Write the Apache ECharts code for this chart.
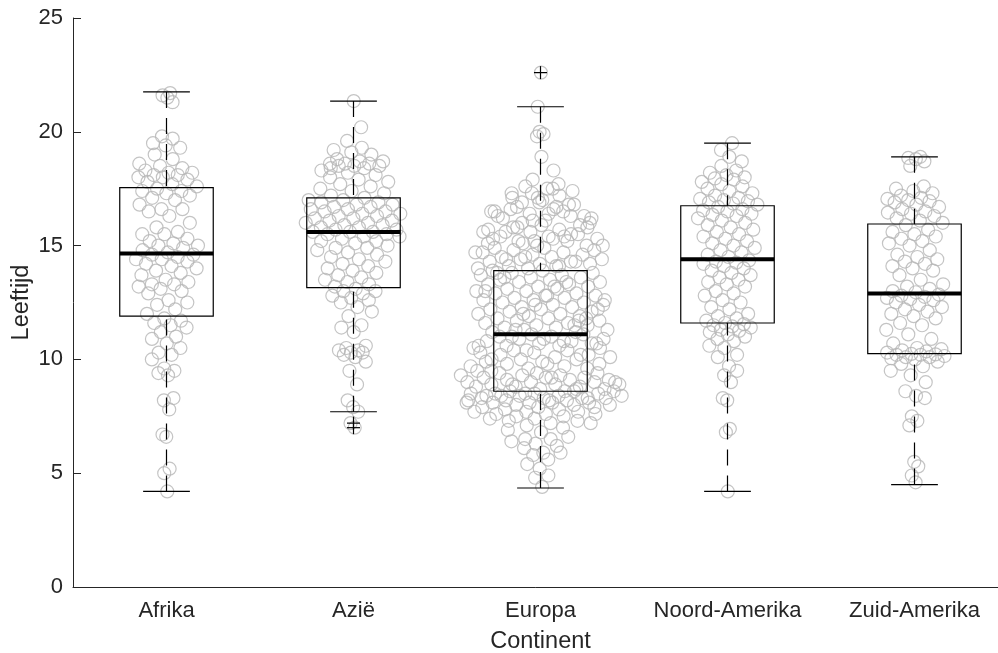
<!DOCTYPE html>
<html>
<head>
<meta charset="utf-8">
<script src="https://cdn.jsdelivr.net/npm/echarts@6/dist/echarts.min.js"></script>
<style>
  html, body { margin: 0; padding: 0; background: #fff; }
  #chart { width: 998px; height: 653px; }
</style>
</head>
<body>
<div id="chart"></div>
<script>
// Leeftijd per continent: boxplot met de losse waarnemingen als open cirkels

const categories = ['Afrika', 'Azië', 'Europa', 'Noord-Amerika', 'Zuid-Amerika'];

const afrika = [
  4.2, 5.0, 5.2, 6.6, 6.7, 7.8, 8.2, 8.3, 9.3, 9.4, 9.5, 9.6, 10.0, 10.2, 10.3, 10.5, 10.7, 10.9, 11.0, 11.2, 11.4, 11.5, 11.6, 11.7, 11.8,
  12.0, 12.2, 12.4, 12.5, 12.6, 12.9, 13.0, 13.1, 13.2, 13.3, 13.3, 13.4, 13.5, 13.7, 13.8, 13.9, 14.0, 14.1, 14.2, 14.3, 14.4, 14.4, 14.5, 14.6, 14.6,
  14.7, 14.8, 14.9, 15.0, 15.0, 15.1, 15.2, 15.3, 15.5, 15.5, 15.6, 15.8, 16.0, 16.3, 16.5, 16.6, 16.6, 16.8, 17.0, 17.1, 17.2, 17.3, 17.4, 17.4, 17.5,
  17.6, 17.7, 17.8, 17.9, 18.0, 18.0, 18.1, 18.1, 18.2, 18.2, 18.3, 18.4, 18.5, 18.6, 18.8, 19.0, 19.3, 19.4, 19.5, 19.7, 19.8, 21.3, 21.5, 21.6, 21.7
];

const azie = [
  7.0, 7.2, 7.7, 7.9, 8.2, 8.9, 9.5, 9.9, 10.1, 10.2, 10.3, 10.3, 10.4, 10.4, 10.5, 10.6, 11.2, 11.4, 11.5, 11.9, 12.1, 12.3, 12.5, 12.6, 12.7, 12.8, 12.9, 13.0, 13.0, 13.1,
  13.2, 13.3, 13.4, 13.5, 13.6, 13.7, 13.8, 13.9, 14.0, 14.1, 14.2, 14.3, 14.4, 14.5, 14.6, 14.7, 14.8, 14.9, 14.9, 15.0, 15.1, 15.2, 15.2, 15.3, 15.4, 15.4, 15.5, 15.5, 15.6, 15.6,
  15.6, 15.7, 15.7, 15.8, 15.8, 15.9, 15.9, 16.0, 16.0, 16.1, 16.1, 16.2, 16.2, 16.3, 16.3, 16.4, 16.4, 16.5, 16.5, 16.6, 16.6, 16.7, 16.7, 16.8, 16.8, 16.9, 16.9, 17.0, 17.0, 17.1,
  17.2, 17.3, 17.4, 17.5, 17.6, 17.7, 17.8, 17.9, 18.0, 18.1, 18.2, 18.3, 18.4, 18.5, 18.5, 18.5, 18.6, 18.6, 18.6, 18.7, 18.7, 18.8, 19.0, 19.1, 19.2, 19.3, 19.6, 20.2, 21.35, 18.4
];

const europa = [
  4.4, 4.8, 4.9, 5.2, 5.4, 5.6, 5.8, 5.9, 5.9, 6.1, 6.2, 6.3, 6.4, 6.5, 6.5, 6.6, 6.8, 6.9, 7.0,
  7.1, 7.2, 7.2, 7.3, 7.3, 7.4, 7.4, 7.5, 7.5, 7.6, 7.6, 7.6, 7.7, 7.7, 7.7, 7.8, 7.8, 7.9, 7.9, 7.9, 8.0, 8.0,
  8.0, 8.1, 8.1, 8.1, 8.1, 8.2, 8.2, 8.2, 8.3, 8.3, 8.3, 8.3, 8.4, 8.4, 8.4, 8.5, 8.5, 8.5, 8.5, 8.6, 8.6, 8.6, 8.2, 8.4, 8.3, 8.5, 8.1, 8.6, 8.4,
  8.7, 8.7, 8.8, 8.8, 8.8, 8.9, 8.9, 8.9, 9.0, 9.0, 9.0, 9.1, 9.1, 9.1, 9.2, 9.2, 9.2, 9.3, 9.3, 9.3, 9.4, 9.4, 9.4, 9.5, 8.7, 8.9, 9.0, 9.2,
  9.5, 9.6, 9.6, 9.7, 9.7, 9.8, 9.8, 9.9, 9.9, 10.0, 10.0, 10.1, 10.1, 10.2, 10.2, 10.3, 10.3, 10.4, 10.4, 10.5, 9.8, 10.0, 10.2, 10.4,
  10.5, 10.6, 10.6, 10.7, 10.7, 10.8, 10.8, 10.9, 10.9, 11.0, 11.0, 11.1, 11.1, 10.6, 10.8, 11.0, 10.7, 10.9,
  11.2, 11.2, 11.3, 11.3, 11.4, 11.4, 11.5, 11.5, 11.6, 11.6, 11.7, 11.7, 11.8, 11.8, 11.9, 11.9, 12.0, 12.0, 12.1, 12.1, 12.2, 12.2, 12.3, 12.3, 12.4,
  12.4, 12.5, 12.5, 12.6, 12.6, 12.7, 12.7, 12.8, 12.8, 12.9, 12.9, 13.0, 13.0, 13.1, 13.1, 13.2, 13.2, 13.3, 13.3, 13.4, 13.4, 13.5, 13.5, 13.6, 13.6,
  13.7, 13.7, 13.8, 13.8, 13.9, 13.9, 11.5, 12.0, 12.6, 13.2, 13.6, 11.8, 12.4, 13.0, 13.4, 11.3, 12.2, 12.8, 13.8, 11.7,
  14.0, 14.0, 14.1, 14.1, 14.2, 14.2, 14.3, 14.3, 14.4, 14.4, 14.5, 14.5, 14.6, 14.6, 14.7, 14.7, 14.8, 14.8, 14.9, 14.9, 14.3, 14.5, 14.7, 14.1, 14.4,
  15.0, 15.0, 15.1, 15.2, 15.2, 15.3, 15.4, 15.4, 15.5, 15.6, 15.6, 15.7, 15.8, 15.8, 15.9, 15.3, 15.5, 15.1, 15.0, 15.3, 15.6, 15.9, 15.2, 15.7, 15.4, 15.8,
  16.0, 16.1, 16.2, 16.3, 16.4, 16.5, 16.6, 16.7, 16.8, 16.9, 16.3, 16.5, 16.0, 16.2, 16.4, 16.6, 16.8, 16.1, 16.5, 16.7, 16.9, 16.3,
  17.0, 17.1, 17.2, 17.3, 17.4, 17.5, 17.6, 17.7, 17.1, 17.3, 17.5, 17.9, 18.3, 18.9, 19.8, 19.9, 20.0, 21.1, 22.6
];

const noordAmerika = [
  4.2, 6.8, 6.95, 8.2, 8.3, 9.0, 9.3, 9.5, 9.7, 10.1, 10.2, 10.5, 10.6, 10.8, 10.9, 11.0, 11.1, 11.2, 11.25, 11.3, 11.4, 11.45, 11.5, 11.55, 11.6,
  11.7, 11.8, 11.9, 12.0, 12.2, 12.3, 12.5, 12.6, 12.8, 12.9, 13.0, 13.2, 13.3, 13.4, 13.5, 13.6, 13.7, 13.8, 13.9, 14.0, 14.1, 14.2, 14.25, 14.3, 14.35,
  14.5, 14.6, 14.7, 14.8, 14.9, 15.0, 15.1, 15.2, 15.3, 15.4, 15.5, 15.6, 15.7, 15.8, 15.9, 16.0, 16.1, 16.2, 16.3, 16.35, 16.4, 16.5, 16.55, 16.6, 16.7,
  16.8, 16.85, 16.9, 16.95, 17.0, 17.05, 17.1, 17.2, 17.3, 17.4, 17.5, 17.6, 17.7, 17.8, 17.9, 17.95, 18.0, 18.1, 18.2, 18.3, 18.5, 18.7, 18.9, 19.2, 19.5
];

const zuidAmerika = [
  4.6, 4.9, 5.3, 5.5, 7.1, 7.3, 7.5, 8.3, 8.4, 8.6, 9.0, 9.3, 9.5, 9.7, 9.8, 9.9, 10.0, 10.05, 10.1, 10.1, 10.15, 10.2, 10.2, 10.22, 10.24,
  10.3, 10.35, 10.4, 10.45, 10.5, 10.7, 10.9, 11.1, 11.3, 11.5, 11.6, 11.8, 11.9, 12.0, 12.1, 12.2, 12.3, 12.4, 12.5, 12.6, 12.65, 12.7, 12.75, 12.8, 12.85,
  12.95, 13.0, 13.1, 13.2, 13.3, 13.5, 13.7, 13.9, 14.0, 14.1, 14.2, 14.3, 14.4, 14.5, 14.6, 14.8, 15.0, 15.1, 15.2, 15.3, 15.4, 15.5, 15.6, 15.7, 15.9,
  16.0, 16.1, 16.2, 16.3, 16.4, 16.45, 16.5, 16.6, 16.7, 16.8, 16.9, 16.95, 17.0, 17.05, 17.1, 17.2, 17.3, 17.4, 17.5, 17.6, 18.5, 18.7, 18.8, 18.85, 18.9
];

const boxLow    = [4.2, 7.7, 4.35, 4.2, 4.5];
const boxQ1     = [11.9, 13.15, 8.6, 11.6, 10.25];
const boxMedian = [14.65, 15.6, 11.1, 14.4, 12.9];
const boxQ3     = [17.55, 17.1, 13.9, 16.75, 15.95];
const boxHigh   = [21.75, 21.35, 21.1, 19.5, 18.9];
const outliers  = [[1, 7.2], [1, 7.0], [2, 22.6]];

const groups = [afrika, azie, europa, noordAmerika, zuidAmerika];
// maximale halve spreiding van de wolk per groep (in categorie-eenheden)
const spread = [0.18, 0.27, 0.45, 0.17, 0.17];

const textColor = '#262626';
const fontFamily = '"Liberation Sans", Arial, Helvetica, sans-serif';

// x-positie per punt: dichtheid (kernschatter) bepaalt de breedte, gulden-snede reeks de plek
function swarmPoints(values, gi) {
  const h = 0.9;
  const dens = values.map(v => values.reduce((s, w) => s + Math.exp(-0.5 * ((v - w) / h) ** 2), 0));
  const dmax = Math.max(...dens);
  return values.map((v, i) => {
    const u = 2 * (((i + 1) * 0.6180339887) % 1) - 1;
    return [gi + 1 + spread[gi] * (dens[i] / dmax) * u, v];
  });
}

const pointData = [];
groups.forEach((g, gi) => swarmPoints(g, gi).forEach(p => pointData.push(p)));

const boxData = categories.map((c, i) => [i + 1, boxLow[i], boxQ1[i], boxMedian[i], boxQ3[i], boxHigh[i]]);

function renderBox(params, api) {
  const x = api.value(0);
  const lo = api.coord([x, api.value(1)]);
  const q1 = api.coord([x, api.value(2)]);
  const md = api.coord([x, api.value(3)]);
  const q3 = api.coord([x, api.value(4)]);
  const hi = api.coord([x, api.value(5)]);
  const half = api.size([0.25, 0])[0];
  const cap = api.size([0.125, 0])[0];
  const line = { stroke: '#000', lineWidth: 1.2, fill: null };
  const dashed = { stroke: '#000', lineWidth: 1.2, lineDash: [16, 10], fill: null };
  return {
    type: 'group',
    children: [
      { type: 'line', shape: { x1: hi[0], y1: hi[1], x2: q3[0], y2: q3[1] }, style: dashed },
      { type: 'line', shape: { x1: lo[0], y1: lo[1], x2: q1[0], y2: q1[1] }, style: dashed },
      { type: 'line', shape: { x1: hi[0] - cap, y1: hi[1], x2: hi[0] + cap, y2: hi[1] }, style: line },
      { type: 'line', shape: { x1: lo[0] - cap, y1: lo[1], x2: lo[0] + cap, y2: lo[1] }, style: line },
      { type: 'rect', shape: { x: q3[0] - half, y: q3[1], width: half * 2, height: q1[1] - q3[1] }, style: line },
      { type: 'line', shape: { x1: md[0] - half, y1: md[1], x2: md[0] + half, y2: md[1] }, style: { stroke: '#000', lineWidth: 4 } }
    ]
  };
}

function renderPlus(params, api) {
  const p = api.coord([api.value(0) + 1, api.value(1)]);
  const r = 6.5;
  const st = { stroke: '#000', lineWidth: 1.2 };
  return {
    type: 'group',
    children: [
      { type: 'line', shape: { x1: p[0] - r, y1: p[1], x2: p[0] + r, y2: p[1] }, style: st },
      { type: 'line', shape: { x1: p[0], y1: p[1] - r, x2: p[0], y2: p[1] + r }, style: st }
    ]
  };
}

const chart = echarts.init(document.getElementById('chart'));
chart.setOption({
  animation: false,
  backgroundColor: '#fff',
  textStyle: { fontFamily: fontFamily },
  grid: { left: 73, top: 18, bottom: 66, width: 935, outerBoundsMode: 'none', containLabel: false },
  xAxis: [
    {
      type: 'category',
      data: categories,
      boundaryGap: true,
      name: 'Continent',
      nameLocation: 'middle',
      nameGap: 43,
      nameMoveOverlap: false,
      nameTextStyle: { fontSize: 23.5, color: textColor, fontFamily: fontFamily },
      axisLine: { lineStyle: { color: textColor, width: 1 } },
      axisTick: { inside: true, alignWithLabel: true, length: 8, lineStyle: { color: textColor } },
      axisLabel: { interval: 0, fontSize: 22, color: textColor, margin: 13, fontFamily: fontFamily },
      splitLine: { show: false }
    },
    { type: 'value', min: 0.5, max: 5.5, show: false }
  ],
  yAxis: {
    type: 'value',
    min: 0,
    max: 25,
    interval: 5,
    name: 'Leeftijd',
    nameLocation: 'middle',
    nameGap: 39,
    nameMoveOverlap: false,
    nameTextStyle: { fontSize: 23.5, color: textColor, fontFamily: fontFamily },
    axisLine: { show: true, lineStyle: { color: textColor, width: 1 } },
    axisTick: { show: true, inside: true, length: 8, lineStyle: { color: textColor } },
    axisLabel: { fontSize: 22, color: textColor, margin: 10, fontFamily: fontFamily },
    splitLine: { show: false }
  },
  series: [
    {
      type: 'scatter',
      xAxisIndex: 1,
      data: pointData,
      symbol: 'circle',
      symbolSize: 13,
      silent: true,
      itemStyle: { color: 'rgba(0,0,0,0)', borderColor: '#b5b5b5', borderWidth: 1.2 },
      z: 2
    },
    {
      type: 'custom',
      xAxisIndex: 1,
      data: boxData,
      renderItem: renderBox,
      encode: { x: 0, y: [1, 2, 3, 4, 5] },
      silent: true,
      z: 5
    },
    {
      type: 'custom',
      xAxisIndex: 1,
      data: outliers,
      renderItem: renderPlus,
      encode: { x: 0, y: 1 },
      silent: true,
      z: 6
    }
  ]
});
</script>
</body>
</html>
